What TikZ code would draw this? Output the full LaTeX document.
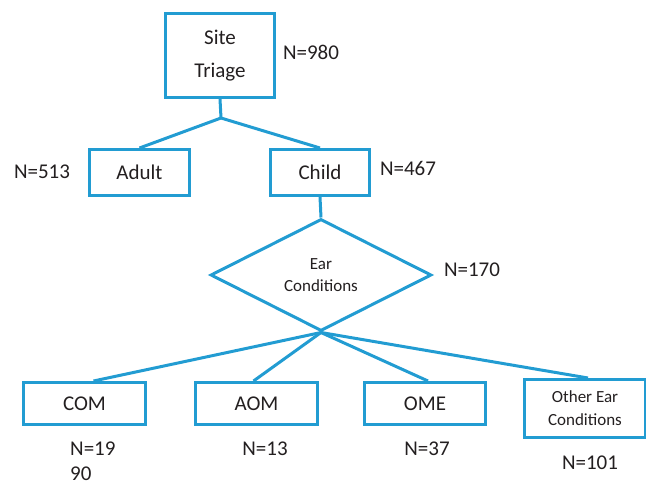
\documentclass[tikz,border=0pt]{standalone}
\usepackage{fontspec}
\setmainfont{Carlito}
\usepackage{tikz}
\usetikzlibrary{shapes.geometric}

\definecolor{flowblue}{RGB}{34,156,210}
\definecolor{inkgray}{RGB}{35,31,32}

\tikzset{
    box/.style={draw=flowblue, line width=3pt, inner sep=0pt, text=inkgray},
    link/.style={draw=flowblue, line width=3pt},
    count/.style={text=inkgray, inner sep=0pt, font=\fontsize{21}{25}\selectfont}
}

\begin{document}
\begin{tikzpicture}[x=1pt, y=-1pt, font=\fontsize{21}{33}\selectfont]
    \useasboundingbox (0,0) rectangle (646,487);

    % Draw the boxes
    \node[box, minimum width=109pt, minimum height=84pt, align=center] (site) at (220,55.5) {Site\\Triage};
    \node[box, minimum width=100pt, minimum height=46pt] (adult) at (139.5,172.5) {Adult};
    \node[box, minimum width=99pt, minimum height=46pt] (child) at (320,172.5) {Child};
    \node[box, diamond, minimum width=221pt, minimum height=112pt, align=center,
          font=\fontsize{17}{22}\selectfont] (ear) at (321,275) {Ear\\Conditions};

    \node[box, minimum width=122pt, minimum height=42pt] (com) at (84.5,403.5) {COM};
    \node[box, minimum width=122pt, minimum height=42pt] (aom) at (256.5,403.5) {AOM};
    \node[box, minimum width=121pt, minimum height=42pt] (ome) at (425,403.5) {OME};
    \node[box, minimum width=121pt, minimum height=58pt, align=center,
          font=\fontsize{17}{23}\selectfont] (other) at (585,408.5) {Other Ear\\Conditions};

    % Connectors
    \coordinate (split) at (221,118);
    \draw[link] (site.south) -- (split);
    \draw[link] (split) -- (adult.north);
    \draw[link] (split) -- (child.north);
    \draw[link] (child.south) -- (ear.north);
    \draw[link] (ear.south) -- ([xshift=9pt]com.north);
    \draw[link] (ear.south) -- ([xshift=-3pt]aom.north);
    \draw[link] (ear.south) -- ([xshift=3pt]ome.north);
    \draw[link] (ear.south) -- ([xshift=3pt]other.north);

    % Counts
    \node[count] (n980) at (311,52) {N=980};
    \node[count] (n513) at (42,172) {N=513};
    \node[count] (n467) at (408,168) {N=467};
    \node[count] (n170) at (472,270) {N=170};
    \node[count, align=left, anchor=west] (n19) at (70,461.5) {N=19\\90};
    \node[count] (n13) at (265,449) {N=13};
    \node[count] (n37) at (427,449) {N=37};
    \node[count] (n101) at (590,463) {N=101};
\end{tikzpicture}
\end{document}
